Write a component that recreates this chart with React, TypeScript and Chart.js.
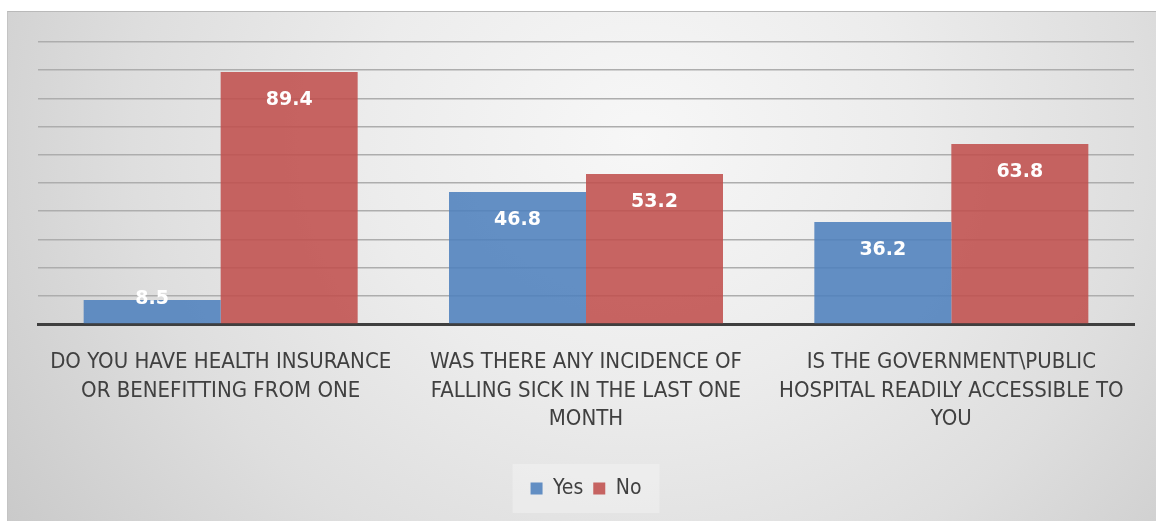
import React, { useEffect, useRef } from "react";
import { Chart, registerables } from "chart.js";

Chart.register(...registerables);

const categories: string[][] = [
  ["DO YOU HAVE HEALTH INSURANCE", "OR BENEFITTING FROM ONE"],
  ["WAS THERE ANY INCIDENCE OF", "FALLING SICK IN THE LAST ONE", "MONTH"],
  ["IS THE GOVERNMENT\\PUBLIC", "HOSPITAL READILY ACCESSIBLE TO", "YOU"],
];
const yesValues = [8.5, 46.8, 36.2];
const noValues = [89.4, 53.2, 63.8];
const seriesNames = ["Yes", "No"];

const NARROW = "'Liberation Sans Narrow', 'DejaVu Sans Condensed', 'Open Sans', sans-serif";

const valueLabels = {
  id: "valueLabels",
  afterDatasetsDraw(chart: any) {
    const ctx = chart.ctx;
    const base = chart.scales.y.getPixelForValue(0);
    ctx.save();
    ctx.fillStyle = "#ffffff";
    ctx.font = "bold 19px 'DejaVu Sans', sans-serif";
    ctx.textAlign = "center";
    ctx.textBaseline = "middle";
    chart.data.datasets.forEach((ds: any, i: number) => {
      const meta = chart.getDatasetMeta(i);
      meta.data.forEach((el: any, j: number) => {
        const y = Math.min(el.y + 28, base - 25);
        ctx.fillText(String(ds.data[j]), el.x, y);
      });
    });
    ctx.restore();
  },
};

const legendBg = {
  id: "legendBg",
  beforeDraw(chart: any) {
    const lg = chart.legend;
    if (!lg || !lg.legendHitBoxes || !lg.legendHitBoxes.length) return;
    const boxes = lg.legendHitBoxes;
    let l = Infinity, r = -Infinity, t = Infinity, b = -Infinity;
    boxes.forEach((h: any) => {
      l = Math.min(l, h.left);
      r = Math.max(r, h.left + h.width);
      t = Math.min(t, h.top);
      b = Math.max(b, h.top + h.height);
    });
    const ctx = chart.ctx;
    ctx.save();
    ctx.fillStyle = "rgba(255,255,255,0.28)";
    ctx.fillRect(l - 18, t - 14, r - l + 36, b - t + 28);
    ctx.restore();
  },
};

export default function App() {
  const ref = useRef<HTMLCanvasElement | null>(null);
  useEffect(() => {
    if (!ref.current) return;
    const chart = new Chart(ref.current, {
      type: "bar",
      data: {
        labels: categories,
        datasets: [
          {
            label: seriesNames[0],
            data: yesValues,
            backgroundColor: "rgba(79,129,189,0.88)",
            borderWidth: 0,
          },
          {
            label: seriesNames[1],
            data: noValues,
            backgroundColor: "rgba(192,80,77,0.88)",
            borderWidth: 0,
          },
        ],
      },
      plugins: [valueLabels, legendBg],
      options: {
        animation: false,
        responsive: true,
        maintainAspectRatio: false,
        layout: { padding: { left: 30, right: 22, top: 30, bottom: 12 } },
        datasets: { bar: { categoryPercentage: 0.75, barPercentage: 1.0 } },
        scales: {
          x: {
            grid: { display: false, drawTicks: false },
            border: { display: true, color: "#3f3f3f", width: 3 },
            ticks: {
              color: "#404040",
              font: { family: NARROW, size: 22, lineHeight: 1.3 },
              padding: 24,
              maxRotation: 0,
              autoSkip: false,
            },
            afterFit(scale: any) {
              scale.height = 144;
            },
          },
          y: {
            min: 0,
            max: 100,
            ticks: { display: false, stepSize: 10 },
            grid: { color: "#adadad", lineWidth: 1.6, drawTicks: false },
            border: { display: false },
            afterFit(scale: any) {
              scale.width = 0;
            },
          },
        },
        plugins: {
          legend: {
            position: "bottom",
            labels: {
              color: "#404040",
              font: { family: NARROW, size: 21 },
              boxWidth: 12,
              boxHeight: 12,
              padding: 10,
            },
          },
          tooltip: { enabled: false },
          title: { display: false },
        },
      },
    } as any);
    return () => chart.destroy();
  }, []);

  return (
    <div
      style={{
        position: "absolute",
        left: 7,
        top: 11,
        width: 1149,
        height: 510,
        boxSizing: "border-box",
        borderTop: "1px solid #b9b9b9",
        borderLeft: "1px solid #c4c4c4",
        background:
          "radial-gradient(ellipse 68% 140% at 55% 25%, #f7f7f7 0%, #ececec 35%, #dedede 65%, #c8c8c8 100%)",
      }}
    >
      <canvas ref={ref} />
    </div>
  );
}
